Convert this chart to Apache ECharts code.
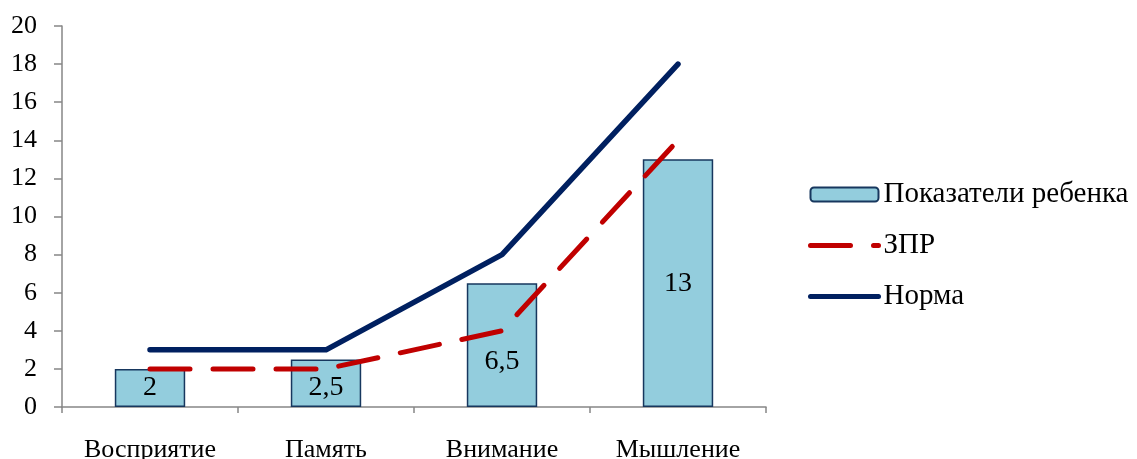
<!DOCTYPE html>
<html>
<head>
<meta charset="utf-8">
<script src="https://cdn.jsdelivr.net/npm/echarts@6/dist/echarts.min.js"></script>
<style>
  html, body { margin: 0; padding: 0; background: #ffffff; }
  #chart { width: 1137px; height: 459px; }
</style>
</head>
<body>
<div id="chart"></div>
<script>
// Категории и значения диаграммы
const categories = ['Восприятие', 'Память', 'Внимание', 'Мышление'];
const childScores = [2, 2.5, 6.5, 13];   // Показатели ребенка
const zprScores = [2, 2, 4, 14];         // ЗПР
const normScores = [3, 3, 8, 18];        // Норма
const yTicks = [0, 2, 4, 6, 8, 10, 12, 14, 16, 18, 20];

const FONT = 'Liberation Serif, Times New Roman, serif';
const AXIS_GREY = '#868686';
const RED = '#C00000';
const NAVY = '#002060';

// Небольшие сдвиги подписей внутри столбцов
const labelShift = { 1: 4, 2: 17 };

const barData = childScores.map((v, i) => ({
  value: v,
  label: { offset: [0, labelShift[i] || 0] }
}));

const chart = echarts.init(document.getElementById('chart'), null, { renderer: 'canvas' });

chart.setOption({
  animation: false,
  backgroundColor: '#ffffff',
  textStyle: { fontFamily: FONT, color: '#000' },
  grid: { left: 62, right: 371, top: 26, bottom: 52, containLabel: false, outerBoundsMode: 'none' },
  legend: {
    orient: 'vertical',
    left: 803,
    top: 175,
    itemWidth: 68,
    itemHeight: 14,
    itemGap: 22,
    textStyle: { fontFamily: FONT, fontSize: 29, color: '#000' },
    data: [
      { name: 'Показатели ребенка' },
      { name: 'ЗПР', itemStyle: { opacity: 0 }, lineStyle: { width: 5, cap: 'round' } },
      { name: 'Норма', itemStyle: { opacity: 0 }, lineStyle: { width: 5, cap: 'round' } }
    ]
  },
  xAxis: {
    type: 'category',
    data: categories,
    axisLine: { lineStyle: { color: AXIS_GREY, width: 1.5 } },
    axisTick: { show: true, length: 6, lineStyle: { color: AXIS_GREY, width: 1.5 } },
    axisLabel: { fontFamily: FONT, fontSize: 26, color: '#000', margin: 30 }
  },
  yAxis: {
    type: 'value',
    min: yTicks[0],
    max: yTicks[yTicks.length - 1],
    interval: 2,
    splitLine: { show: false },
    axisLine: { show: true, lineStyle: { color: AXIS_GREY, width: 1.5 } },
    axisTick: { show: true, length: 8, lineStyle: { color: AXIS_GREY, width: 1.5 } },
    axisLabel: { fontFamily: FONT, fontSize: 26, color: '#000', margin: 25 }
  },
  series: [
    {
      name: 'Показатели ребенка',
      type: 'bar',
      barWidth: '40%',
      data: barData,
      z: 1,
      itemStyle: { color: '#93CDDD', borderColor: '#17375E', borderWidth: 1.5 },
      label: {
        show: true,
        position: 'inside',
        fontFamily: FONT,
        fontSize: 28,
        color: '#000',
        formatter: p => String(p.value).replace('.', ',')
      }
    },
    {
      name: 'ЗПР',
      type: 'line',
      data: zprScores,
      z: 3,
      symbol: 'none',
      lineStyle: { color: RED, width: 5, type: [40, 23], cap: 'round', join: 'round' },
      itemStyle: { color: RED }
    },
    {
      name: 'Норма',
      type: 'line',
      data: normScores,
      z: 4,
      symbol: 'none',
      lineStyle: { color: NAVY, width: 5.5, cap: 'round', join: 'round' },
      itemStyle: { color: NAVY }
    }
  ]
});
</script>
</body>
</html>
